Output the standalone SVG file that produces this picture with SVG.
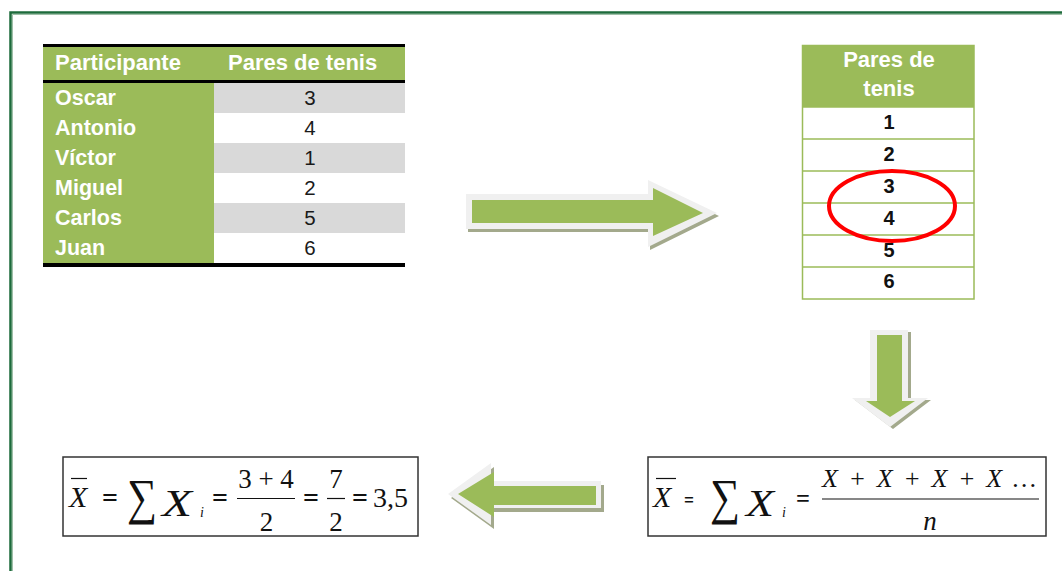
<svg xmlns="http://www.w3.org/2000/svg" width="1062" height="571" viewBox="0 0 1062 571">
<style>
.hdr{font-family:"Liberation Sans",Arial,sans-serif;font-weight:bold;font-size:22px;fill:#ffffff}
.name{font-family:"Liberation Sans",Arial,sans-serif;font-weight:bold;font-size:21.5px;fill:#ffffff}
.num{font-family:"Liberation Sans",Arial,sans-serif;font-size:20.5px;fill:#1a1a1a;text-anchor:middle}
.bnum{font-family:"Liberation Sans",Arial,sans-serif;font-weight:bold;font-size:20px;fill:#111111;text-anchor:middle}
.m{font-family:"Liberation Serif","Times New Roman",serif;fill:#111111}
.mi{font-family:"Liberation Serif","Times New Roman",serif;font-style:italic;fill:#111111}
.eq{font-family:"Liberation Serif","Times New Roman",serif;font-weight:bold;fill:#111111}
.blk{fill:#000000}
.grn{fill:#9bbb59}
.gry{fill:#d9d9d9}
.tl{stroke:#9bbb59;stroke-width:1.5;fill:none}
.box{fill:#ffffff;stroke:#333333;stroke-width:1.5}
.fl{stroke:#111111;stroke-width:1.2}
.arrOut{fill:#f0f0f0}
.arrSh{fill:#a3a98c}
.arrIn{fill:#9bbb59}
</style>
<rect x="0" y="0" width="1062" height="571" fill="#ffffff"/>
<path d="M10.5 580 V12.5 H1070" fill="none" stroke="#1d6b3b" stroke-width="2.5"/>
<path d="M12.5 580 V14.5 H1070" fill="none" stroke="#9fc0a8" stroke-width="1"/>

<g id="table1">
  <rect class="grn" x="43" y="47" width="362" height="33"/>
  <rect class="grn" x="43" y="83" width="171" height="180"/>
  <rect class="gry" x="214" y="83" width="191" height="30"/>
  <rect class="gry" x="214" y="143" width="191" height="30"/>
  <rect class="gry" x="214" y="203" width="191" height="30"/>
  <rect class="blk" x="43" y="44" width="362" height="3"/>
  <rect class="blk" x="43" y="80" width="362" height="3"/>
  <rect class="blk" x="43" y="263" width="362" height="4"/>
  <text class="hdr" x="55" y="70">Participante</text>
  <text class="hdr" x="228" y="70">Pares de tenis</text>
  <text class="name" x="55" y="105">Oscar</text>
  <text class="name" x="55" y="135">Antonio</text>
  <text class="name" x="55" y="165">Víctor</text>
  <text class="name" x="55" y="195">Miguel</text>
  <text class="name" x="55" y="225">Carlos</text>
  <text class="name" x="55" y="255">Juan</text>
  <text class="num" x="310" y="105">3</text>
  <text class="num" x="310" y="135">4</text>
  <text class="num" x="310" y="165">1</text>
  <text class="num" x="310" y="195">2</text>
  <text class="num" x="310" y="225">5</text>
  <text class="num" x="310" y="255">6</text>
</g>

<g id="table2">
  <rect class="grn" x="802" y="45" width="172" height="62"/>
  <rect class="tl" x="802.5" y="45.5" width="171.5" height="253.5"/>
  <line class="tl" x1="802" y1="107" x2="974" y2="107"/>
  <line class="tl" x1="802" y1="139" x2="974" y2="139"/>
  <line class="tl" x1="802" y1="171" x2="974" y2="171"/>
  <line class="tl" x1="802" y1="203" x2="974" y2="203"/>
  <line class="tl" x1="802" y1="235" x2="974" y2="235"/>
  <line class="tl" x1="802" y1="267" x2="974" y2="267"/>
  <text class="hdr" x="889" y="67" text-anchor="middle">Pares de</text>
  <text class="hdr" x="889" y="96" text-anchor="middle">tenis</text>
  <text class="bnum" x="889" y="129">1</text>
  <text class="bnum" x="889" y="161">2</text>
  <text class="bnum" x="889" y="193">3</text>
  <text class="bnum" x="889" y="225">4</text>
  <text class="bnum" x="889" y="257">5</text>
  <text class="bnum" x="889" y="288">6</text>
  <ellipse cx="892" cy="206" rx="63" ry="35" fill="none" stroke="#ff0000" stroke-width="4"/>
</g>

<g id="formula-general">
  <rect class="box" x="648" y="457" width="398" height="79"/>
  <text class="mi" x="653" y="507" font-size="30">X</text>
  <line class="fl" x1="656" y1="478.5" x2="676" y2="478.5"/>
  <text class="eq" x="684" y="507" font-size="22" textLength="10" lengthAdjust="spacingAndGlyphs">=</text>
  <text class="m" x="710" y="514" font-size="50" textLength="30" lengthAdjust="spacingAndGlyphs">∑</text>
  <text class="mi" x="746" y="516" font-size="38" textLength="28" lengthAdjust="spacingAndGlyphs">X</text>
  <text class="mi" x="782" y="517" font-size="14">i</text>
  <text class="eq" x="796" y="507" font-size="26" textLength="14" lengthAdjust="spacingAndGlyphs">=</text>
  <text class="mi" x="822" y="487" font-size="26" textLength="214" lengthAdjust="spacing">X + X + X + X …</text>
  <line class="fl" x1="822" y1="499" x2="1039" y2="499"/>
  <text class="mi" x="930" y="530" font-size="27" text-anchor="middle">n</text>
</g>

<g id="formula-result">
  <rect class="box" x="63" y="457" width="355" height="79"/>
  <text class="mi" x="69" y="507" font-size="30">X</text>
  <line class="fl" x1="71" y1="478.5" x2="87" y2="478.5"/>
  <text class="eq" x="102" y="507" font-size="28" textLength="16" lengthAdjust="spacingAndGlyphs">=</text>
  <text class="m" x="127" y="514" font-size="50" textLength="30" lengthAdjust="spacingAndGlyphs">∑</text>
  <text class="mi" x="162" y="516" font-size="38" textLength="30" lengthAdjust="spacingAndGlyphs">X</text>
  <text class="mi" x="200" y="517" font-size="14">i</text>
  <text class="eq" x="212" y="507" font-size="28" textLength="16" lengthAdjust="spacingAndGlyphs">=</text>
  <text class="m" x="266" y="488" font-size="27" text-anchor="middle">3 + 4</text>
  <line class="fl" x1="237" y1="498.5" x2="295" y2="498.5"/>
  <text class="m" x="266.5" y="531" font-size="27" text-anchor="middle">2</text>
  <text class="eq" x="303" y="507" font-size="28" textLength="16" lengthAdjust="spacingAndGlyphs">=</text>
  <text class="m" x="336" y="488" font-size="27" text-anchor="middle">7</text>
  <line class="fl" x1="327" y1="498.5" x2="345" y2="498.5"/>
  <text class="m" x="336" y="531" font-size="27" text-anchor="middle">2</text>
  <text class="eq" x="352" y="507" font-size="28" textLength="16" lengthAdjust="spacingAndGlyphs">=</text>
  <text class="m" x="373" y="507" font-size="28">3,5</text>
</g>

<g id="connectors">
  <g id="arrow-right">
    <polygon class="arrSh" transform="translate(2,3)" points="466,194 648,194 648,180 717,213 648,247 648,229 466,229"/>
    <polygon class="arrOut" points="466,194 648,194 648,180 717,213 648,247 648,229 466,229"/>
    <polygon class="arrIn" points="472,200 653,200 653,188 703,213 653,236 653,223 472,223"/>
  </g>
  <g id="arrow-down">
    <polygon class="arrSh" transform="translate(3,2)" points="870,330 908,330 908,398 928,398 890,427 852,398 870,398"/>
    <polygon class="arrOut" points="870,330 908,330 908,398 928,398 890,427 852,398 870,398"/>
    <polygon class="arrIn" points="877,335 902,335 902,401 915,401 890,417 866,401 877,401"/>
  </g>
  <g id="arrow-left">
    <polygon class="arrSh" transform="translate(3,4)" points="448,494 491,463 491,481 601,481 601,508 491,508 491,525"/>
    <polygon class="arrOut" points="448,494 491,463 491,481 601,481 601,508 491,508 491,525"/>
    <polygon class="arrIn" points="458,494 494,472 494,486 596,486 596,505 494,505 494,517"/>
  </g>
</g>
</svg>
